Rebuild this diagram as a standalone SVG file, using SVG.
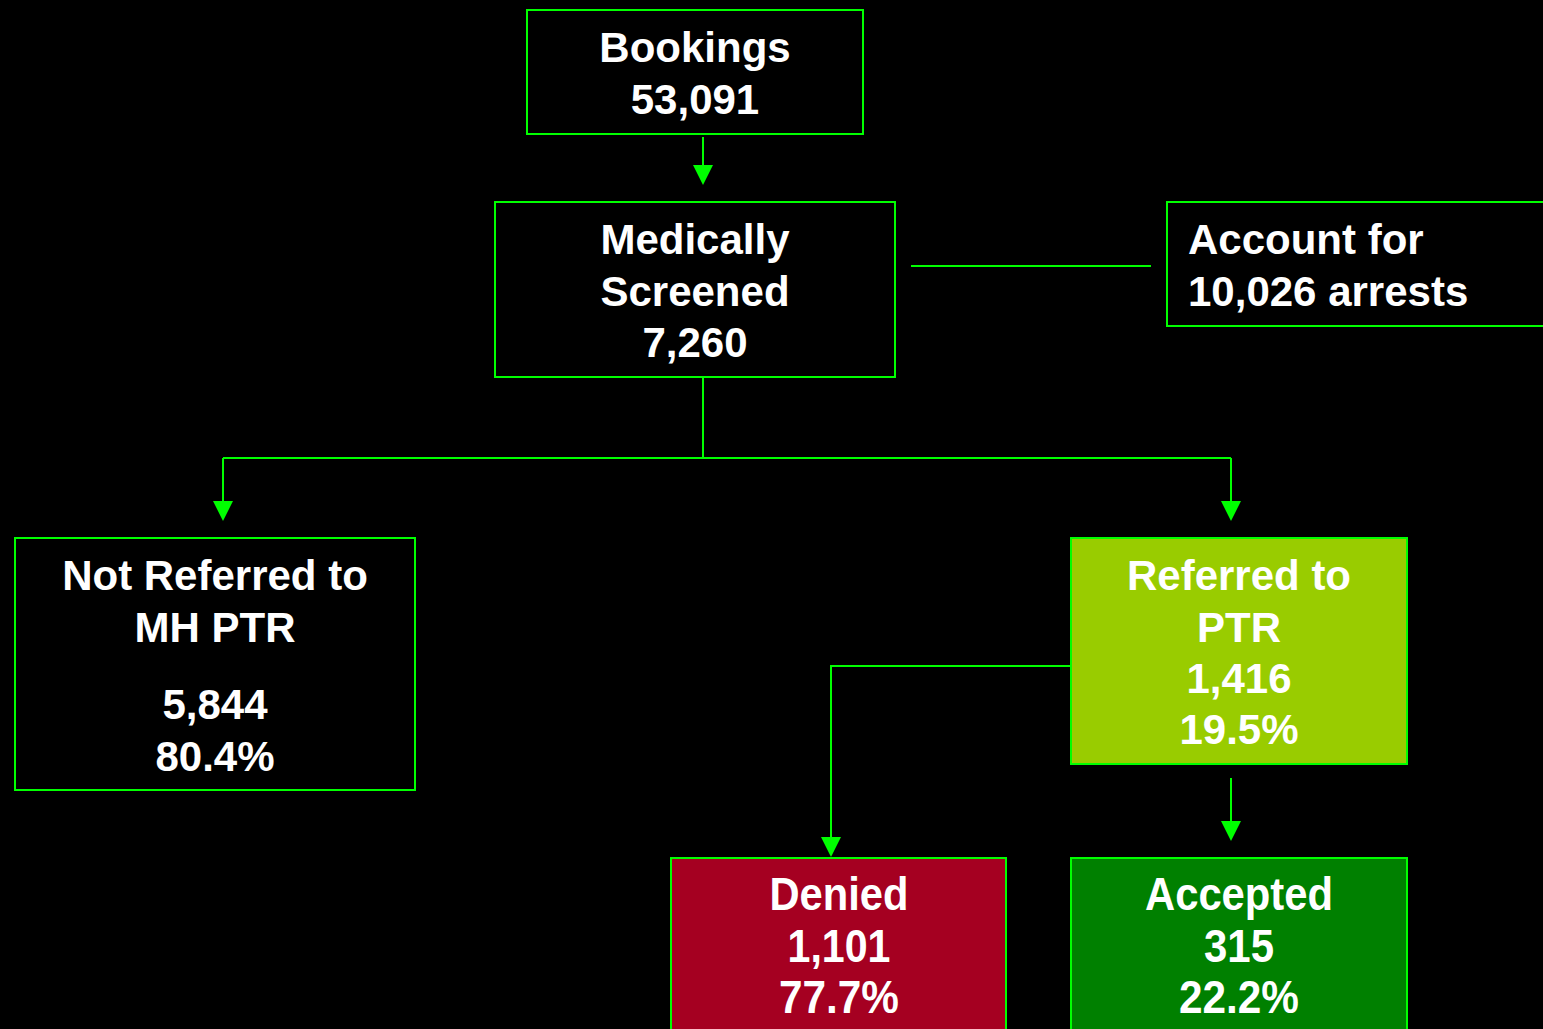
<svg xmlns="http://www.w3.org/2000/svg" width="1543" height="1029" viewBox="0 0 1543 1029">
<style>
.box{stroke:#00ff00;stroke-width:2}
.t{font-family:"Liberation Sans",Arial,sans-serif;font-weight:bold;font-size:42px;fill:#ffffff;text-anchor:middle}
.tl{text-anchor:start}
.c{font-size:46px}
.ln{fill:none;stroke:#00ff00;stroke-width:2}
.ah{fill:#00ff00}
</style>
<rect width="1543" height="1029" fill="#000"/>
<g id="connectors">
<path class="ln" d="M703,137 V165"/>
<path class="ah" d="M693,165 L713,165 L703,185 Z"/>
<path class="ln" d="M911,266 H1151"/>
<path class="ln" d="M703,377 V458 M223,458 H1231 M223,458 V501 M1231,458 V501"/>
<path class="ah" d="M213,501 L233,501 L223,521 Z"/>
<path class="ah" d="M1221,501 L1241,501 L1231,521 Z"/>
<path class="ln" d="M1071,666 H831 V838"/>
<path class="ah" d="M821,837 L841,837 L831,857 Z"/>
<path class="ln" d="M1231,778 V821"/>
<path class="ah" d="M1221,821 L1241,821 L1231,841 Z"/>
</g>
<g id="bookings">
<rect class="box" x="527" y="10" width="336" height="124" fill="#000"/>
<text class="t" x="695" y="62">Bookings</text>
<text class="t" x="695" y="114">53,091</text>
</g>
<g id="screened">
<rect class="box" x="495" y="202" width="400" height="175" fill="#000"/>
<text class="t" x="695" y="254">Medically</text>
<text class="t" x="695" y="306">Screened</text>
<text class="t" x="695" y="357">7,260</text>
</g>
<g id="account">
<rect class="box" x="1167" y="202" width="390" height="124" fill="#000"/>
<text class="t tl" x="1188" y="254">Account for</text>
<text class="t tl" x="1188" y="306">10,026 arrests</text>
</g>
<g id="notreferred">
<rect class="box" x="15" y="538" width="400" height="252" fill="#000"/>
<text class="t" x="215" y="590">Not Referred to</text>
<text class="t" x="215" y="642">MH PTR</text>
<text class="t" x="215" y="719">5,844</text>
<text class="t" x="215" y="771">80.4%</text>
</g>
<g id="referred">
<rect class="box" x="1071" y="538" width="336" height="226" fill="#99cc00"/>
<text class="t" x="1239" y="590">Referred to</text>
<text class="t" x="1239" y="642">PTR</text>
<text class="t" x="1239" y="693">1,416</text>
<text class="t" x="1239" y="744">19.5%</text>
</g>
<g id="denied">
<rect class="box" x="671" y="858" width="335" height="190" fill="#a50021"/>
<text class="t c" x="839" y="910" textLength="139" lengthAdjust="spacingAndGlyphs">Denied</text>
<text class="t c" x="839" y="962" textLength="103" lengthAdjust="spacingAndGlyphs">1,101</text>
<text class="t c" x="839" y="1013" textLength="120" lengthAdjust="spacingAndGlyphs">77.7%</text>
</g>
<g id="accepted">
<rect class="box" x="1071" y="858" width="336" height="190" fill="#008000"/>
<text class="t c" x="1239" y="910" textLength="188" lengthAdjust="spacingAndGlyphs">Accepted</text>
<text class="t c" x="1239" y="962" textLength="70" lengthAdjust="spacingAndGlyphs">315</text>
<text class="t c" x="1239" y="1013" textLength="120" lengthAdjust="spacingAndGlyphs">22.2%</text>
</g>
</svg>
